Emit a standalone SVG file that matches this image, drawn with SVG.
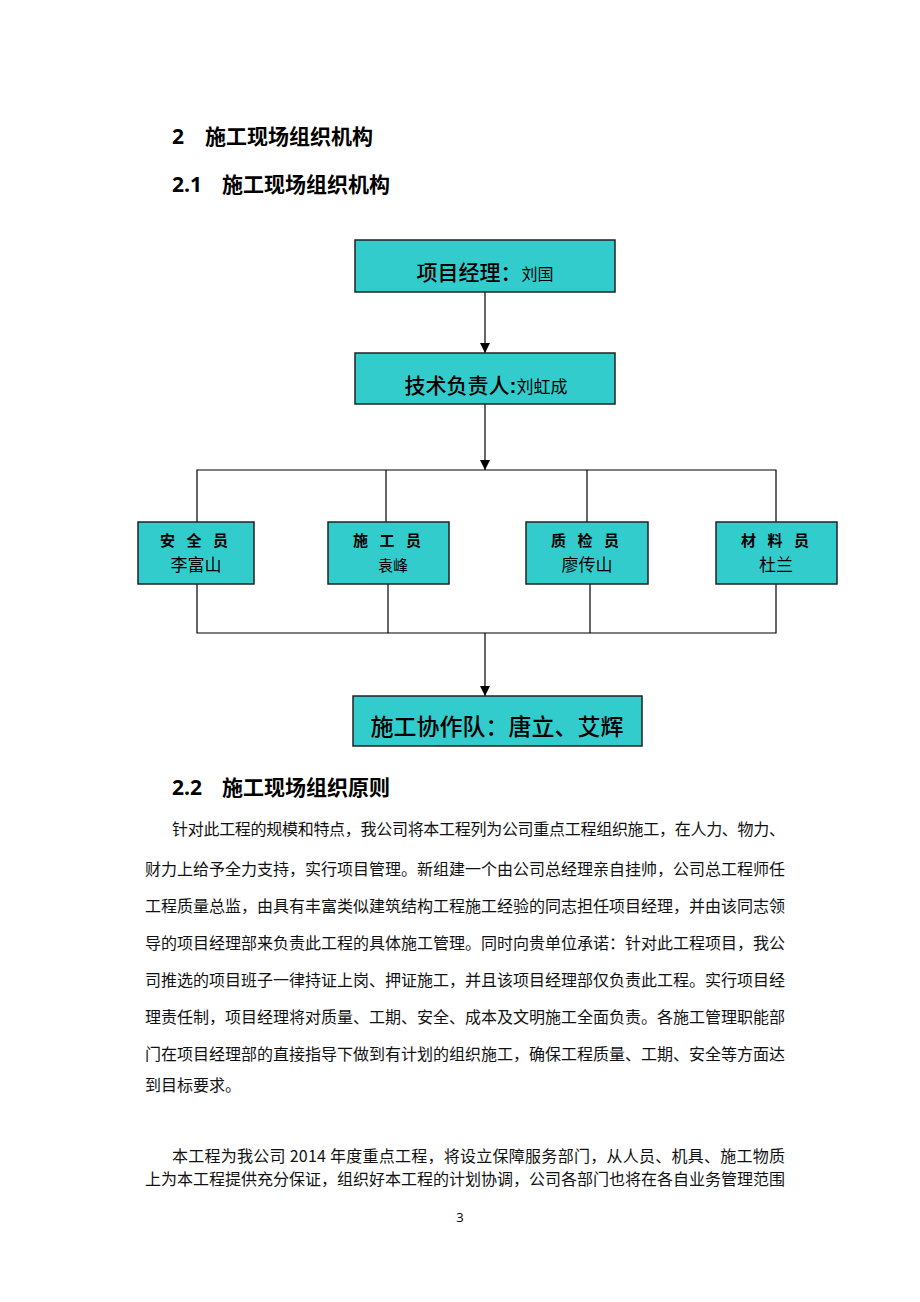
<svg xmlns="http://www.w3.org/2000/svg" width="920" height="1302" viewBox="0 0 920 1302">
<style>
.h{font-family:"Noto Sans CJK SC","Noto Sans",sans-serif;font-weight:bold;font-size:21px;fill:#000}
.hn{font-family:"Open Sans","Liberation Sans",sans-serif;font-weight:bold}
.box{fill:#33CCCC;stroke:#222;stroke-width:1.5}
.ln{fill:none;stroke:#000;stroke-width:1.2}
.bt{font-family:"Noto Sans CJK SC",sans-serif;fill:#000;text-anchor:middle}
.body{font-family:"Noto Sans CJK SC",sans-serif;font-size:16px;fill:#111}
</style>
<defs>
<marker id="ah" viewBox="0 0 10 10" refX="10" refY="5" markerWidth="10" markerHeight="10" markerUnits="userSpaceOnUse" orient="auto">
<path d="M0,0 L10,5 L0,10 z" fill="#000"/>
</marker>
</defs>
<rect width="920" height="1302" fill="#fff"/>

<text class="h" x="172" y="144"><tspan class="hn">2</tspan><tspan x="205">施工现场组织机构</tspan></text>
<text class="h" x="172" y="192"><tspan class="hn">2.1</tspan><tspan x="222">施工现场组织机构</tspan></text>

<g id="connectors">
<line class="ln" x1="485" y1="292" x2="485" y2="353" marker-end="url(#ah)"/>
<line class="ln" x1="485" y1="404" x2="485" y2="470" marker-end="url(#ah)"/>
<polyline class="ln" points="197,522 197,470 776,470 776,522"/>
<line class="ln" x1="386" y1="470" x2="386" y2="522"/>
<line class="ln" x1="587" y1="470" x2="587" y2="522"/>
<polyline class="ln" points="197,584 197,633 776,633 776,584"/>
<line class="ln" x1="388" y1="584" x2="388" y2="633"/>
<line class="ln" x1="590" y1="584" x2="590" y2="633"/>
<line class="ln" x1="485" y1="633" x2="485" y2="696" marker-end="url(#ah)"/>
</g>

<g id="manager">
<rect class="box" x="355" y="240" width="260" height="52"/>
<text class="bt" x="485" y="280" font-size="21" font-weight="500"><tspan>项目经理：</tspan><tspan font-size="16" font-weight="normal">刘国</tspan></text>
</g>
<g id="tech">
<rect class="box" x="355" y="353" width="260" height="51"/>
<text class="bt" x="486" y="393" font-size="21" font-weight="500"><tspan>技术负责人</tspan><tspan font-family="Liberation Sans" font-weight="bold">:</tspan><tspan font-size="17" font-weight="normal">刘虹成</tspan></text>
</g>
<g id="safety">
<rect class="box" x="138" y="522" width="116" height="62"/>
<text class="bt" x="196" y="546" font-size="15" font-weight="bold" letter-spacing="4">安 全 员</text>
<text class="bt" x="196" y="571" font-size="17">李富山</text>
</g>
<g id="builder">
<rect class="box" x="328" y="522" width="121" height="62"/>
<text class="bt" x="389" y="546" font-size="15" font-weight="bold" letter-spacing="4">施 工 员</text>
<text class="bt" x="393" y="571" font-size="15">袁峰</text>
</g>
<g id="quality">
<rect class="box" x="526" y="522" width="122" height="62"/>
<text class="bt" x="587" y="546" font-size="15" font-weight="bold" letter-spacing="4">质 检 员</text>
<text class="bt" x="587" y="571" font-size="17">廖传山</text>
</g>
<g id="material">
<rect class="box" x="716" y="522" width="121" height="62"/>
<text class="bt" x="777" y="546" font-size="15" font-weight="bold" letter-spacing="4">材 料 员</text>
<text class="bt" x="776" y="571" font-size="17">杜兰</text>
</g>
<g id="team">
<rect class="box" x="353" y="696" width="289" height="50"/>
<text class="bt" x="497" y="735" font-size="23" font-weight="500">施工协作队：唐立、艾辉</text>
</g>

<text class="h" x="172" y="795"><tspan class="hn">2.2</tspan><tspan x="222">施工现场组织原则</tspan></text>

<g class="body">
<text x="172" y="835" textLength="613" lengthAdjust="spacing">针对此工程的规模和特点，我公司将本工程列为公司重点工程组织施工，在人力、物力、</text>
<text x="145" y="875" textLength="640" lengthAdjust="spacing">财力上给予全力支持，实行项目管理。新组建一个由公司总经理亲自挂帅，公司总工程师任</text>
<text x="145" y="912" textLength="640" lengthAdjust="spacing">工程质量总监，由具有丰富类似建筑结构工程施工经验的同志担任项目经理，并由该同志领</text>
<text x="145" y="949" textLength="640" lengthAdjust="spacing">导的项目经理部来负责此工程的具体施工管理。同时向贵单位承诺：针对此工程项目，我公</text>
<text x="145" y="986" textLength="640" lengthAdjust="spacing">司推选的项目班子一律持证上岗、押证施工，并且该项目经理部仅负责此工程。实行项目经</text>
<text x="145" y="1023" textLength="640" lengthAdjust="spacing">理责任制，项目经理将对质量、工期、安全、成本及文明施工全面负责。各施工管理职能部</text>
<text x="145" y="1060" textLength="640" lengthAdjust="spacing">门在项目经理部的直接指导下做到有计划的组织施工，确保工程质量、工期、安全等方面达</text>
<text x="145" y="1091">到目标要求。</text>
<text x="172" y="1162" textLength="613" lengthAdjust="spacing">本工程为我公司 2014 年度重点工程，将设立保障服务部门，从人员、机具、施工物质</text>
<text x="145" y="1185" textLength="640" lengthAdjust="spacing">上为本工程提供充分保证，组织好本工程的计划协调，公司各部门也将在各自业务管理范围</text>
</g>

<text x="460" y="1222" font-family="Open Sans, Liberation Sans, sans-serif" font-size="13" text-anchor="middle" fill="#000">3</text>
</svg>
